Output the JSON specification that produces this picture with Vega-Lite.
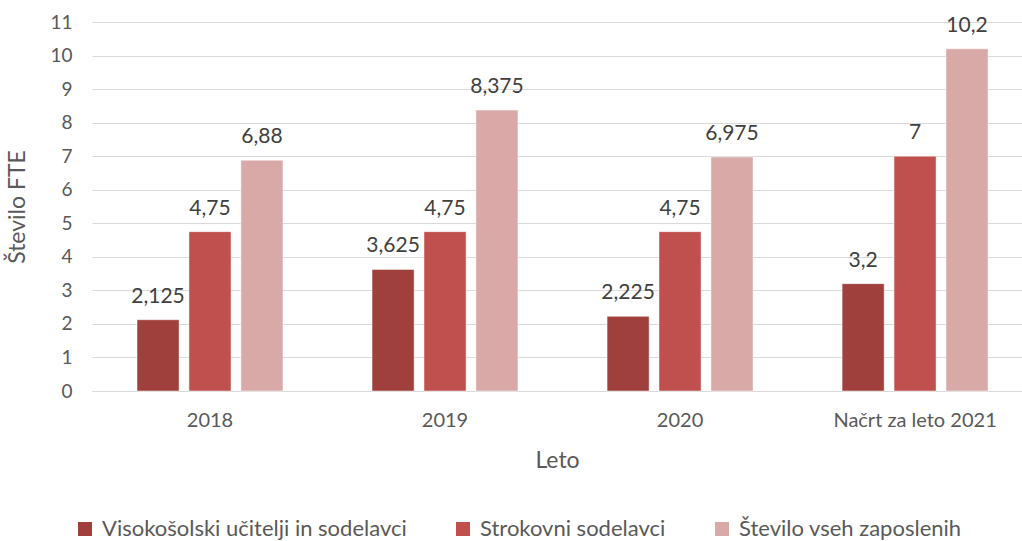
{
  "$schema": "https://vega.github.io/schema/vega-lite/v6.json",
  "autosize": {"type": "none"},
  "padding": {"left": 92, "top": 22, "right": 0, "bottom": 150},
  "width": 930,
  "height": 369,
  "background": "white",
  "data": {
    "values": [
      {"leto": "2018", "serija": "Visokošolski učitelji in sodelavci", "vrednost": 2.125, "label": "2,125"},
      {"leto": "2018", "serija": "Strokovni sodelavci", "vrednost": 4.75, "label": "4,75"},
      {"leto": "2018", "serija": "Število vseh zaposlenih", "vrednost": 6.88, "label": "6,88"},
      {"leto": "2019", "serija": "Visokošolski učitelji in sodelavci", "vrednost": 3.625, "label": "3,625"},
      {"leto": "2019", "serija": "Strokovni sodelavci", "vrednost": 4.75, "label": "4,75"},
      {"leto": "2019", "serija": "Število vseh zaposlenih", "vrednost": 8.375, "label": "8,375"},
      {"leto": "2020", "serija": "Visokošolski učitelji in sodelavci", "vrednost": 2.225, "label": "2,225"},
      {"leto": "2020", "serija": "Strokovni sodelavci", "vrednost": 4.75, "label": "4,75"},
      {"leto": "2020", "serija": "Število vseh zaposlenih", "vrednost": 6.975, "label": "6,975"},
      {"leto": "Načrt za leto 2021", "serija": "Visokošolski učitelji in sodelavci", "vrednost": 3.2, "label": "3,2"},
      {"leto": "Načrt za leto 2021", "serija": "Strokovni sodelavci", "vrednost": 7, "label": "7"},
      {"leto": "Načrt za leto 2021", "serija": "Število vseh zaposlenih", "vrednost": 10.2, "label": "10,2"}
    ]
  },
  "encoding": {
    "x": {
      "field": "leto", "type": "nominal", "sort": null,
      "scale": {"paddingInner": 0.379, "paddingOuter": 0.168, "align": 0.57},
      "axis": {
        "title": "Leto", "labelAngle": 0, "ticks": false, "domainColor": "#d9d9d9",
        "labelFontSize": 20, "labelColor": "#595959", "labelPadding": 19,
        "titleFontSize": 23, "titleFontWeight": "normal", "titleColor": "#595959", "titlePadding": 19
      }
    },
    "xOffset": {
      "field": "serija", "type": "nominal", "sort": null,
      "scale": {"paddingInner": 0.19, "paddingOuter": 0}
    },
    "y": {
      "field": "vrednost", "type": "quantitative",
      "scale": {"domain": [0, 11], "nice": false},
      "axis": {
        "title": "Število FTE", "values": [0,1,2,3,4,5,6,7,8,9,10,11],
        "domain": false, "ticks": false, "gridColor": "#d9d9d9",
        "labelFontSize": 19, "labelColor": "#595959", "labelPadding": 20,
        "titleFontSize": 23, "titleFontWeight": "normal", "titleColor": "#595959", "titlePadding": 20
      }
    }
  },
  "layer": [
    {
      "mark": {"type": "bar", "stroke": "#ffffff", "strokeWidth": 0.8, "strokeOpacity": 0.6},
      "encoding": {
        "color": {
          "field": "serija", "type": "nominal", "sort": null,
          "scale": {
            "domain": ["Visokošolski učitelji in sodelavci", "Strokovni sodelavci", "Število vseh zaposlenih"],
            "range": ["#A0403D", "#C0504D", "#D9A9A8"]
          },
          "legend": {
            "title": null, "orient": "none", "direction": "horizontal",
            "legendX": -18, "legendY": 496,
            "symbolType": "square", "symbolSize": 196, "symbolStrokeWidth": 0,
            "labelFontSize": 22, "labelColor": "#595959", "labelLimit": 0,
            "columnPadding": 45, "labelOffset": 6
          }
        }
      }
    },
    {
      "mark": {"type": "text", "baseline": "alphabetic", "dy": -17, "fontSize": 21, "color": "#404040"},
      "encoding": {"text": {"field": "label"}}
    }
  ],
  "config": {
    "font": "Lato",
    "view": {"stroke": null}
  }
}
